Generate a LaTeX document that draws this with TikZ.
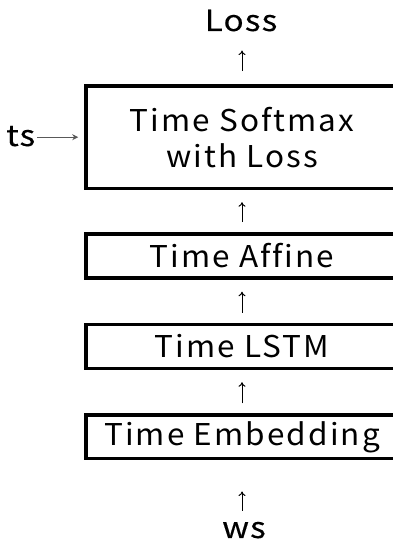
\documentclass[tikz,border=0pt]{standalone}
\usepackage{fontspec}
\usetikzlibrary{arrows.meta}
\newfontfamily\lblfont[FakeStretch=1.05,LetterSpace=7,Ligatures={NoCommon}]{Noto Sans CJK JP}
\newfontfamily\iofont[FakeStretch=1.15,LetterSpace=4,FakeBold=0.3]{Noto Sans CJK JP}
\begin{document}
\begin{tikzpicture}[x=1pt,y=1pt,
  layer/.style={draw=black, line width=3.5pt, minimum width=312pt, inner sep=0pt,
     align=center, font=\lblfont\fontsize{30}{36}\selectfont},
  lbl/.style={inner sep=0pt, font=\iofont\fontsize{29}{33}\selectfont},
  arr/.style={-{To[length=4.5pt,width=7pt]}, line width=1pt},
  sidearr/.style={-{Stealth[length=6pt,width=6pt]}, line width=1.2pt, draw=black!65}]
\useasboundingbox (0,0) rectangle (393,541);
\node[layer, minimum height=102.5pt] (sm) at (242,403.8) {Time Softmax\\with Loss};
\node[layer, minimum height=44pt] (af) at (242,285) {Time Af{}f{}ine};
\node[layer, minimum height=44pt] (ls) at (242,194.5) {Time LSTM};
\node[layer, minimum height=43.5pt] (em) at (242,104) {Time Embedding};
\node[lbl, anchor=base] (loss) at (241,510) {Loss};
\node[lbl, anchor=base] (ws) at (244,3) {ws};
\node[lbl, anchor=base west] (ts) at (6,395) {ts};
\draw[arr, shorten <=13pt, shorten >=19pt] (sm.north) -- (loss.south -| sm.north);
\draw[arr, shorten <=10pt, shorten >=12pt] (af.north) -- (sm.south);
\draw[arr, shorten <=10pt, shorten >=12pt] (ls.north) -- (af.south);
\draw[arr, shorten <=10pt, shorten >=12pt] (em.north) -- (ls.south);
\draw[arr, shorten <=11pt, shorten >=31pt] (ws.north -| em.south) -- (em.south);
\draw[sidearr, shorten <=2pt, shorten >=6pt] (ts.east |- sm.west) -- (sm.west);
\end{tikzpicture}
\end{document}
